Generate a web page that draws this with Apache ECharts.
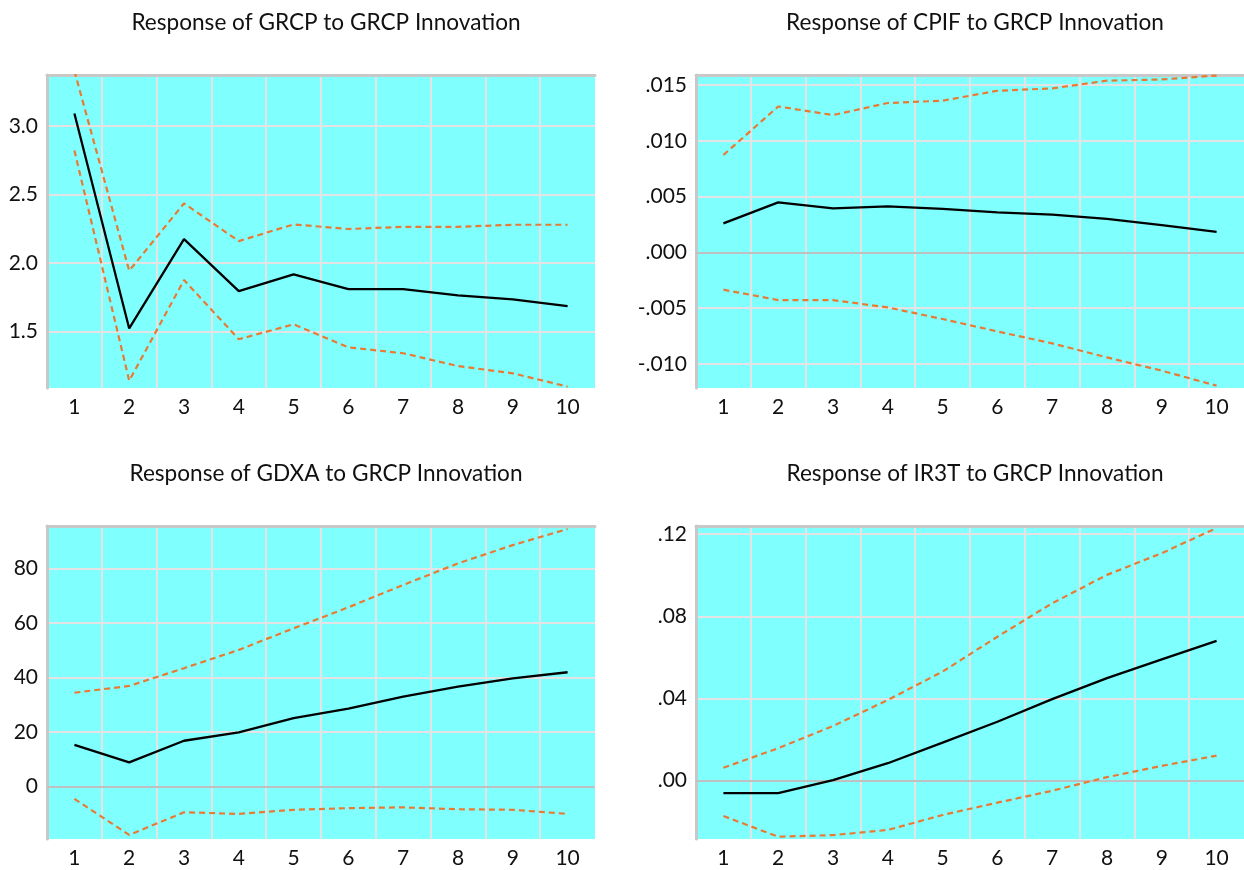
<!DOCTYPE html>
<html>
<head>
<meta charset="utf-8">
<script src="https://cdn.jsdelivr.net/npm/echarts@6/dist/echarts.min.js"></script>
<style>
html,body{margin:0;padding:0;background:#fff;}
#c{width:1244px;height:870px;}
</style>
</head>
<body>
<div id="c"></div>
<script>
const periods = ['1','2','3','4','5','6','7','8','9','10'];

const titles = [
  'Response of GRCP to GRCP Innovation',
  'Response of CPIF to GRCP Innovation',
  'Response of GDXA to GRCP Innovation',
  'Response of IR3T to GRCP Innovation'
];

// GRCP
const grcpResp  = [3.09, 1.524, 2.175, 1.796, 1.918, 1.81, 1.81, 1.765, 1.736, 1.687];
const grcpUpper = [3.40, 1.944, 2.435, 2.16, 2.282, 2.248, 2.264, 2.264, 2.279, 2.279];
const grcpLower = [2.82, 1.143, 1.876, 1.445, 1.554, 1.386, 1.343, 1.25, 1.197, 1.10];
const grcpTicks = [1.5, 2.0, 2.5, 3.0];

// CPIF
const cpifResp  = [0.0026, 0.00448, 0.00394, 0.00412, 0.0039, 0.00358, 0.00338, 0.0030, 0.00245, 0.00185];
const cpifUpper = [0.00873, 0.01308, 0.01231, 0.01339, 0.0136, 0.01449, 0.0147, 0.01539, 0.0155, 0.01585];
const cpifLower = [-0.00334, -0.00427, -0.00427, -0.00493, -0.00597, -0.00708, -0.00815, -0.00941, -0.0106, -0.01194];
const cpifTicks = [-0.010, -0.005, 0.000, 0.005, 0.010, 0.015];

// GDXA
const gdxaResp  = [15.3, 8.9, 16.8, 19.9, 25.1, 28.6, 33.0, 36.6, 39.7, 41.9];
const gdxaUpper = [34.4, 36.9, 43.4, 50.1, 58.0, 65.7, 73.9, 81.8, 88.5, 94.4];
const gdxaLower = [-4.5, -17.7, -9.4, -10.0, -8.5, -7.9, -7.6, -8.3, -8.5, -10.0];
const gdxaTicks = [0, 20, 40, 60, 80];

// IR3T
const ir3tResp  = [-0.0061, -0.0061, 0.0003, 0.0085, 0.0185, 0.0287, 0.0397, 0.0499, 0.0591, 0.0681];
const ir3tUpper = [0.0063, 0.0158, 0.0266, 0.0393, 0.0531, 0.0701, 0.0864, 0.1002, 0.1108, 0.123];
const ir3tLower = [-0.0172, -0.0273, -0.0265, -0.024, -0.0167, -0.0107, -0.0049, 0.0017, 0.0072, 0.0122];
const ir3tTicks = [0.00, 0.04, 0.08, 0.12];

const panels = [
  {title: titles[0], resp: grcpResp, up: grcpUpper, lo: grcpLower, ticks: grcpTicks, min: 1.09, max: 3.37, dec: 1, strip: false, zero: false},
  {title: titles[1], resp: cpifResp, up: cpifUpper, lo: cpifLower, ticks: cpifTicks, min: -0.01215, max: 0.0159, dec: 3, strip: true, zero: true},
  {title: titles[2], resp: gdxaResp, up: gdxaUpper, lo: gdxaLower, ticks: gdxaTicks, min: -19.2, max: 95.5, dec: 0, strip: false, zero: true},
  {title: titles[3], resp: ir3tResp, up: ir3tUpper, lo: ir3tLower, ticks: ir3tTicks, min: -0.0284, max: 0.124, dec: 2, strip: true, zero: true}
];

const FONT = 'Lato';
const gridPos = [
  {left: 47, top: 75, width: 548, height: 313},
  {left: 696, top: 75, width: 548, height: 313},
  {left: 47, top: 526, width: 548, height: 313},
  {left: 696, top: 526, width: 548, height: 313}
];

// vertical grid colours: band boundaries, last (right edge) hidden
const vGridColors = periods.map(() => '#e4e4e4').concat(['rgba(0,0,0,0)']);

const option = {
  backgroundColor: '#ffffff',
  animation: false,
  title: [], grid: [], xAxis: [], yAxis: [], series: []
};

panels.forEach((p, i) => {
  const g = gridPos[i];
  option.title.push({
    text: p.title,
    left: g.left + g.width / 2,
    top: g.top - 69,
    textAlign: 'center',
    textStyle: {fontFamily: FONT, fontSize: 22.6, fontWeight: 'normal', color: '#111'}
  });
  option.grid.push({
    left: g.left, top: g.top, width: g.width, height: g.height,
    show: true, backgroundColor: '#80ffff', borderWidth: 0,
    containLabel: false
  });
  option.xAxis.push({
    type: 'category', gridIndex: i, data: periods, boundaryGap: true, position: 'bottom',
    axisLine: {show: false},
    axisTick: {show: false},
    axisLabel: {fontFamily: FONT, fontSize: 21, color: '#111', margin: 9},
    splitLine: {show: true, lineStyle: {color: vGridColors, width: 2}}
  });
  option.xAxis.push({
    type: 'category', gridIndex: i, data: periods, boundaryGap: true, position: 'top',
    axisLine: {show: true, lineStyle: {color: '#c8c8c8', width: 3}},
    axisTick: {show: false}, axisLabel: {show: false}, splitLine: {show: false}
  });
  option.yAxis.push({
    type: 'value', gridIndex: i, min: p.min, max: p.max, scale: true,
    axisLine: {show: true, onZero: false, lineStyle: {color: '#c8c8c8', width: 3}},
    axisTick: {show: false, customValues: p.ticks},
    axisLabel: {
      fontFamily: FONT, fontSize: 21, color: '#111', margin: 9,
      customValues: p.ticks,
      formatter: (v) => {
        let s = Number(v).toFixed(p.dec);
        if (p.strip) s = s.replace(/^(-?)0\./, '$1.');
        return s;
      }
    },
    splitLine: {show: true, lineStyle: {color: '#e4e4e4', width: 2}}
  });
  const xi = i * 2;
  option.series.push({
    type: 'line', xAxisIndex: xi, yAxisIndex: i, data: p.resp,
    symbol: 'none', lineStyle: {color: '#000', width: 2.3}, z: 5,
    markLine: p.zero ? {
      silent: true, symbol: ['none', 'none'], label: {show: false},
      lineStyle: {color: '#c0c0c0', width: 2, type: 'solid'},
      data: [{yAxis: 0}], z: 1
    } : undefined
  });
  [p.up, p.lo].forEach(arr => {
    option.series.push({
      type: 'line', xAxisIndex: xi, yAxisIndex: i, data: arr,
      symbol: 'none', z: 4,
      lineStyle: {color: '#e87a34', width: 2.2, type: [6, 4]}
    });
  });
});

const chart = echarts.init(document.getElementById('c'), null, {renderer: 'canvas'});
chart.setOption(option);
</script>
</body>
</html>
